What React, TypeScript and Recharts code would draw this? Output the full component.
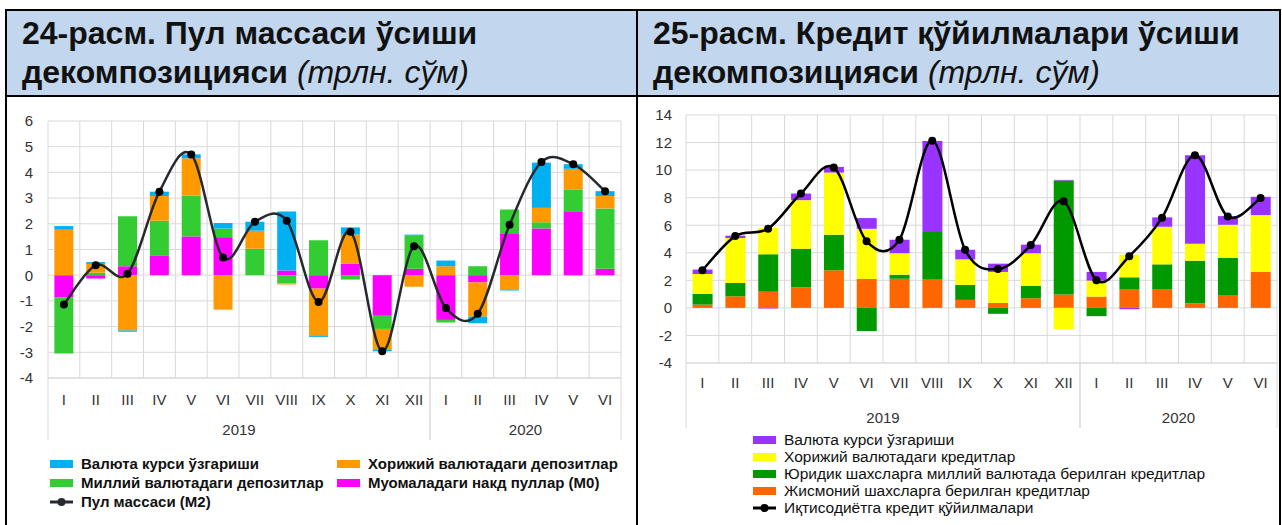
import React from "react";
import { ComposedChart, Bar, Line, XAxis, YAxis, CartesianGrid } from "recharts";

const months = ["I", "II", "III", "IV", "V", "VI", "VII", "VIII", "IX", "X", "XI", "XII", "I", "II", "III", "IV", "V", "VI"];
const years = ["2019", "2019", "2019", "2019", "2019", "2019", "2019", "2019", "2019", "2019", "2019", "2019", "2020", "2020", "2020", "2020", "2020", "2020"];

// 24-расм: пул массаси
const cashM0 = [-0.87, -0.13, 0.35, 0.75, 1.51, 1.48, 0, 0.18, -0.52, 0.45, -1.58, 0.25, -1.74, -0.28, 1.6, 1.82, 2.49, 0.25];
const depNational = [-2.18, 0.1, 1.94, 1.37, 1.59, 0.34, 1.03, -0.32, 1.36, -0.17, -0.51, 1.31, -0.1, 0.35, 0.96, 0.24, 0.85, 2.35];
const depForeign = [1.77, 0.34, -2.15, 0.96, 1.45, -1.34, 0.7, -0.04, -1.82, 1.13, -0.82, -0.45, 0.35, -1.33, -0.58, 0.56, 0.8, 0.48];
const fxMoney = [0.14, 0.07, -0.05, 0.17, 0.15, 0.21, 0.35, 2.3, -0.06, 0.28, -0.05, 0.02, 0.22, -0.26, -0.02, 1.76, 0.18, 0.19];
const moneyM2 = [-1.14, 0.39, 0.06, 3.25, 4.7, 0.69, 2.08, 2.12, -1.04, 1.69, -2.96, 1.13, -1.28, -1.5, 1.96, 4.4, 4.32, 3.27];

// 25-расм: кредит қўйилмалари
const credIndividual = [0.24, 0.84, 1.18, 1.5, 2.73, 2.1, 2.12, 2.1, 0.58, 0.36, 0.7, 0.97, 0.82, 1.33, 1.33, 0.31, 0.89, 2.61];
const credLegal = [0.77, 0.97, 2.71, 2.8, 2.58, -1.68, 0.29, 3.4, 1.09, -0.43, 0.89, 8.27, -0.6, 0.89, 1.83, 3.12, 2.75, 0];
const credForeign = [1.45, 3.26, 1.9, 3.52, 4.51, 3.64, 1.55, 0, 1.85, 2.25, 2.37, -1.55, 1.16, 1.64, 2.73, 1.23, 2.39, 4.12];
const fxCredit = [0.32, 0.17, -0.05, 0.48, 0.41, 0.78, 0.99, 6.62, 0.7, 0.6, 0.63, 0.05, 0.63, -0.1, 0.68, 6.42, 0.63, 1.33];
const creditTotal = [2.73, 5.21, 5.75, 8.3, 10.19, 4.84, 4.95, 12.14, 4.22, 2.82, 4.56, 7.74, 2.01, 3.75, 6.55, 11.08, 6.63, 7.97];

const ticksLeft = [-4, -3, -2, -1, 0, 1, 2, 3, 4, 5, 6];
const ticksRight = [-4, -2, 0, 2, 4, 6, 8, 10, 12, 14];

const moneyRows = months.map((m, i) => ({
  month: m, year: years[i],
  m0: cashM0[i], nat: depNational[i], frn: depForeign[i], fx: fxMoney[i], m2: moneyM2[i],
}));
const creditRows = months.map((m, i) => ({
  month: m, year: years[i],
  ind: credIndividual[i], leg: credLegal[i], frn: credForeign[i], fx: fxCredit[i], total: creditTotal[i],
}));

const moneySeries = [
  { key: "fx", name: "Валюта курси ўзгариши", color: "#00B0F0" },
  { key: "frn", name: "Хорижий валютадаги депозитлар", color: "#FF9900" },
  { key: "nat", name: "Миллий валютадаги депозитлар", color: "#33CC33" },
  { key: "m0", name: "Муомаладаги накд пуллар (M0)", color: "#FF00FF" },
];
const creditSeries = [
  { key: "fx", name: "Валюта курси ўзгариши", color: "#9933FF" },
  { key: "frn", name: "Хорижий валютадаги кредитлар", color: "#FFFF00" },
  { key: "leg", name: "Юридик шахсларга миллий валютада берилган кредитлар", color: "#009900" },
  { key: "ind", name: "Жисмоний шахсларга берилган кредитлар", color: "#FF6600" },
];

const FONT = "'Liberation Sans', Arial, sans-serif";
const GRID = "#D9D9D9";

// Excel-like smoothed line (Catmull-Rom through the points)
function excelCurve(context: any) {
  let pts: number[][] = [];
  return {
    areaStart() {},
    areaEnd() {},
    lineStart() { pts = []; },
    point(x: number, y: number) { pts.push([+x, +y]); },
    lineEnd() {
      if (!pts.length) return;
      context.moveTo(pts[0][0], pts[0][1]);
      for (let i = 0; i < pts.length - 1; i++) {
        const p0 = pts[i - 1] || pts[i];
        const p1 = pts[i];
        const p2 = pts[i + 1];
        const p3 = pts[i + 2] || p2;
        context.bezierCurveTo(
          p1[0] + (p2[0] - p0[0]) / 6, p1[1] + (p2[1] - p0[1]) / 6,
          p2[0] - (p3[0] - p1[0]) / 6, p2[1] - (p3[1] - p1[1]) / 6,
          p2[0], p2[1]
        );
      }
    },
  };
}

function MonthTick(props: any) {
  const { x, y, index, rows, band, drop, monthDy, yearDy } = props;
  const row = rows[index];
  if (!row) return null;
  let s = index;
  while (s > 0 && rows[s - 1].year === row.year) s--;
  let e = index;
  while (e < rows.length - 1 && rows[e + 1].year === row.year) e++;
  const mid = (s + e) / 2;
  return (
    <g>
      <text x={x} y={y + monthDy} textAnchor="middle" fontSize={15} fill="#333" fontFamily={FONT}>{row.month}</text>
      {index === Math.floor(mid) && (
        <text x={x + (mid - index) * band} y={y + yearDy} textAnchor="middle" fontSize={15} fill="#333" fontFamily={FONT}>{row.year}</text>
      )}
      {index === s && <line x1={x - band / 2} x2={x - band / 2} y1={y} y2={y + drop} stroke={GRID} />}
      {index === e && <line x1={x + band / 2} x2={x + band / 2} y1={y} y2={y + drop} stroke={GRID} />}
    </g>
  );
}

const gridCols = (n: number) => ({ offset }: any) =>
  Array.from({ length: n + 1 }, (_, i) => offset.left + (i * offset.width) / n);

function Swatch({ color }: { color: string }) {
  return <span style={{ display: "inline-block", width: 23, height: 8, background: color, marginRight: 8 }} />;
}
function LineSwatch({ color }: { color: string }) {
  return (
    <svg width={23} height={10} style={{ marginRight: 8 }}>
      <line x1={0} x2={23} y1={5} y2={5} stroke={color} strokeWidth={3} />
      <circle cx={11.5} cy={5} r={4} fill={color} />
    </svg>
  );
}

const titleStyle: React.CSSProperties = {
  position: "absolute", top: 14, fontFamily: FONT, fontWeight: 700, fontSize: 32, lineHeight: "39px", color: "#111",
};

export default function App() {
  const leftBand = 573 / moneyRows.length;
  const rightBand = 591 / creditRows.length;
  return (
    <div style={{ position: "absolute", left: 0, top: 0, width: 1282, height: 525, background: "#fff", fontFamily: FONT, overflow: "hidden" }}>
      {/* header band and table borders */}
      <div style={{ position: "absolute", left: 5, top: 9, width: 1276, height: 86, background: "#C2D7EE" }} />
      <div style={{ position: "absolute", left: 5, top: 9, width: 1276, height: 2, background: "#000" }} />
      <div style={{ position: "absolute", left: 5, top: 95, width: 1276, height: 2, background: "#000" }} />
      <div style={{ position: "absolute", left: 5, top: 9, width: 2, height: 516, background: "#000" }} />
      <div style={{ position: "absolute", left: 636, top: 9, width: 2, height: 516, background: "#000" }} />
      <div style={{ position: "absolute", left: 1279, top: 9, width: 2, height: 516, background: "#000" }} />

      <div style={{ ...titleStyle, left: 22 }}>
        24-расм. Пул массаси ўсиши<br />декомпозицияси <span style={{ fontWeight: 400, fontStyle: "italic" }}>(трлн. сўм)</span>
      </div>
      <div style={{ ...titleStyle, left: 653 }}>
        25-расм. Кредит қўйилмалари ўсиши<br />декомпозицияси <span style={{ fontWeight: 400, fontStyle: "italic" }}>(трлн. сўм)</span>
      </div>

      {/* 24-расм */}
      <div style={{ position: "absolute", left: 0, top: 100 }}>
        <ComposedChart width={640} height={360} data={moneyRows} stackOffset="sign" barCategoryGap="20%"
          margin={{ top: 21, right: 19, left: 8, bottom: 22 }}>
          <CartesianGrid stroke={GRID} verticalCoordinatesGenerator={gridCols(moneyRows.length)} />
          <XAxis dataKey="month" interval={0} height={60} tickSize={0} tickMargin={0} tickLine={false}
            axisLine={{ stroke: GRID }}
            tick={(p: any) => <MonthTick {...p} rows={moneyRows} band={leftBand} drop={62} monthDy={27} yearDy={57} />} />
          <YAxis domain={[-4, 6]} ticks={ticksLeft} width={40} tickSize={0} tickMargin={15} axisLine={false} tickLine={false}
            tick={{ fontSize: 15, fill: "#333", fontFamily: FONT }} />
          {[...moneySeries].reverse().map((s) => (
            <Bar key={s.key} dataKey={s.key} name={s.name} stackId="a" fill={s.color} isAnimationActive={false} />
          ))}
          <Line dataKey="m2" name="Пул массаси (M2)" type={excelCurve as any} stroke="#262A30" strokeWidth={2.5}
            dot={{ r: 4, fill: "#000", stroke: "#000", strokeWidth: 0 }} isAnimationActive={false} />
        </ComposedChart>
      </div>

      {/* 24-расм legend */}
      <div style={{ position: "absolute", left: 50, top: 454, fontSize: 15, fontWeight: 700, lineHeight: "19px", color: "#111" }}>
        {[moneySeries[0], moneySeries[2]].map((s) => (
          <div key={s.key} style={{ display: "flex", alignItems: "center" }}><Swatch color={s.color} />{s.name}</div>
        ))}
        <div style={{ display: "flex", alignItems: "center" }}><LineSwatch color="#262A30" />Пул массаси (M2)</div>
      </div>
      <div style={{ position: "absolute", left: 337, top: 454, fontSize: 15, fontWeight: 700, lineHeight: "19px", color: "#111" }}>
        {[moneySeries[1], moneySeries[3]].map((s) => (
          <div key={s.key} style={{ display: "flex", alignItems: "center" }}><Swatch color={s.color} />{s.name}</div>
        ))}
      </div>

      {/* 25-расм */}
      <div style={{ position: "absolute", left: 640, top: 100 }}>
        <ComposedChart width={642} height={340} data={creditRows} stackOffset="sign" barCategoryGap="20%"
          margin={{ top: 15, right: 5, left: 6, bottom: 17 }}>
          <CartesianGrid stroke={GRID} verticalCoordinatesGenerator={gridCols(creditRows.length)} />
          <XAxis dataKey="month" interval={0} height={60} tickSize={0} tickMargin={0} tickLine={false}
            axisLine={{ stroke: GRID }}
            tick={(p: any) => <MonthTick {...p} rows={creditRows} band={rightBand} drop={65} monthDy={25} yearDy={60} />} />
          <YAxis domain={[-4, 14]} ticks={ticksRight} width={40} tickSize={0} tickMargin={14} axisLine={false} tickLine={false}
            tick={{ fontSize: 15, fill: "#333", fontFamily: FONT }} />
          {[...creditSeries].reverse().map((s) => (
            <Bar key={s.key} dataKey={s.key} name={s.name} stackId="a" fill={s.color} isAnimationActive={false} />
          ))}
          <Line dataKey="total" name="Иқтисодиётга кредит қўйилмалари" type={excelCurve as any} stroke="#000" strokeWidth={2.5}
            dot={{ r: 4, fill: "#000", stroke: "#000", strokeWidth: 0 }} isAnimationActive={false} />
        </ComposedChart>
      </div>

      {/* 25-расм legend */}
      <div style={{ position: "absolute", left: 753, top: 431, fontSize: 15.5, lineHeight: "17px", color: "#111" }}>
        {creditSeries.map((s) => (
          <div key={s.key} style={{ display: "flex", alignItems: "center" }}><Swatch color={s.color} />{s.name}</div>
        ))}
        <div style={{ display: "flex", alignItems: "center" }}><LineSwatch color="#000" />Иқтисодиётга кредит қўйилмалари</div>
      </div>
    </div>
  );
}
